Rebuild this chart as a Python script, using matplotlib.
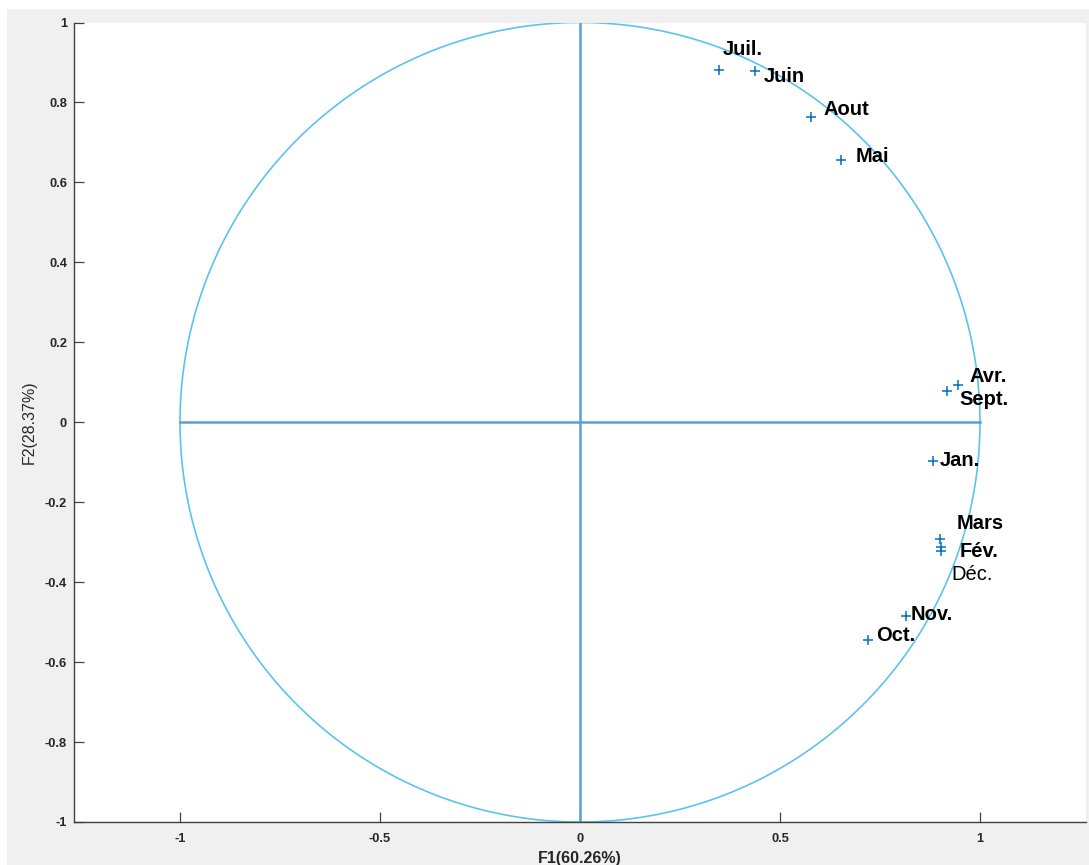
import numpy as np
import matplotlib.pyplot as plt
from matplotlib.patches import Rectangle

# Correlation circle: monthly variables projected on F1/F2
months = ['Juil.', 'Juin', 'Aout', 'Mai', 'Avr.', 'Sept.', 'Jan.',
          'Mars', 'Fév.', 'Déc.', 'Nov.', 'Oct.']
f1 = [0.347, 0.437, 0.577, 0.652, 0.945, 0.917, 0.882,
      0.900, 0.902, 0.902, 0.815, 0.720]
f2 = [0.880, 0.878, 0.764, 0.657, 0.094, 0.077, -0.096,
      -0.292, -0.313, -0.323, -0.484, -0.544]
bold = [True, True, True, True, True, True, True,
        True, True, False, True, True]

# label offsets in pixels (dx, dy)
offsets = {'Juil.': (4, 21), 'Juin': (9, -5), 'Aout': (13, 7), 'Mai': (15, 3),
           'Avr.': (11, 8), 'Sept.': (13, -8), 'Jan.': (7, 0), 'Mars': (17, 15),
           'Fév.': (19, -4), 'Déc.': (11, -23), 'Nov.': (5, 1), 'Oct.': (8, 4)}

xlabel = 'F1(60.26%)'
ylabel = 'F2(28.37%)'
xticks = [-1, -0.5, 0, 0.5, 1]
yticks = [-1, -0.8, -0.6, -0.4, -0.2, 0, 0.2, 0.4, 0.6, 0.8, 1]

plt.rcParams['font.family'] = ['Liberation Sans', 'DejaVu Sans']

W, H = 1089, 865
fig = plt.figure(figsize=(W / 100, H / 100), dpi=100, facecolor='white')
# grey window background
fig.add_artist(Rectangle((7 / W, 0), 1, 1 - 9 / H, transform=fig.transFigure,
                         facecolor='#f0f0f0', edgecolor='none', zorder=-10))

ax = fig.add_axes([74 / W, 43 / H, 1012 / W, 799.5 / H])
ax.set_facecolor('white')
ax.set_xlim(-1.265, 1.265)
ax.set_ylim(-1, 1)

# unit circle and axes cross
t = np.linspace(0, 2 * np.pi, 600)
ax.plot(np.cos(t), np.sin(t), color='#5cc3ef', lw=1.2, zorder=2)
ax.plot([-1, 1], [0, 0], color='#5a9fd6', lw=1.8, zorder=2)
ax.plot([0, 0], [-1, 1], color='#5a9fd6', lw=1.8, zorder=2)

ax.plot(f1, f2, linestyle='none', marker='+', ms=7, mew=1.1, color='#0072BD', zorder=3)
for name, x, y, b in zip(months, f1, f2, bold):
    dx, dy = offsets[name]
    ax.annotate(name, (x, y), xytext=(dx, dy), textcoords='offset pixels',
                ha='left', va='center', fontsize=14.5,
                fontweight='bold' if b else 'normal', color='black', zorder=4)

for side in ['top', 'right']:
    ax.spines[side].set_visible(False)
for side in ['left', 'bottom']:
    ax.spines[side].set_color('#404040')
    ax.spines[side].set_linewidth(1.0)

ax.set_xticks(xticks)
ax.set_xticklabels(['-1', '-0.5', '0', '0.5', '1'])
ax.set_yticks(yticks)
ax.set_yticklabels(['-1', '-0.8', '-0.6', '-0.4', '-0.2', '0',
                    '0.2', '0.4', '0.6', '0.8', '1'])
ax.tick_params(direction='in', length=7.5, width=0.9, color='#404040',
               labelsize=9.3, labelcolor='#262626')
ax.tick_params(axis='x', pad=8)
ax.tick_params(axis='y', pad=5)
for lab in ax.get_xticklabels() + ax.get_yticklabels():
    lab.set_fontweight('bold')

ax.set_xlabel(xlabel, fontsize=11.5, fontweight='bold', color='#262626', labelpad=4)
ax.set_ylabel(ylabel, fontsize=11.5, color='#262626', labelpad=6)

fig.savefig('out.png', dpi=100)
